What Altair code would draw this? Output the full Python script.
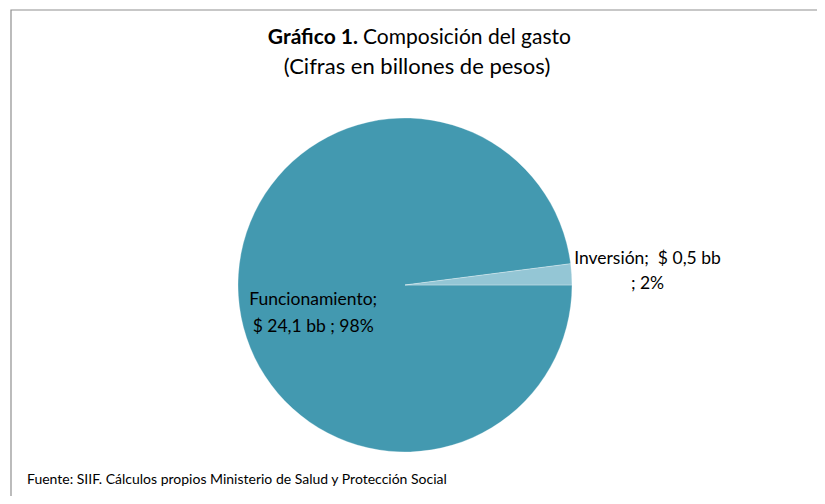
import math
import altair as alt
import pandas as pd

categorias = ["Funcionamiento", "Inversión"]
valores = [24.1, 0.5]
porcentajes = [98, 2]
orden = [1, 2]
colores = ["#4399b0", "#94c6d5"]

titulo_negrita = "Gráfico 1."
titulo_normal = "Composición del gasto"
subtitulo = "(Cifras en billones de pesos)"
fuente = "Fuente: SIIF. Cálculos propios Ministerio de Salud y Protección Social"

FONT = "Lato"


def fmt(v):
    return str(v).replace(".", ",")


df = pd.DataFrame({"categoria": categorias, "valor": valores, "pct": porcentajes, "orden": orden})
df["tF"] = [
    f"{c};\n$ {fmt(v)} bb ; {p}%" if c == "Funcionamiento" else ""
    for c, v, p in zip(categorias, valores, porcentajes)
]
df["tI"] = [
    f"{c};\u00a0\u00a0$ {fmt(v)} bb\n; {p}%" if c == "Inversión" else ""
    for c, v, p in zip(categorias, valores, porcentajes)
]

CX, CY, R = 397, 277, 167
theta_scale = alt.Scale(range=[math.pi / 2, math.pi / 2 + 2 * math.pi])

base = alt.Chart(df)

pie = base.mark_arc(outerRadius=R, stroke="white", strokeWidth=0.3).encode(
    theta=alt.Theta("valor:Q", stack=True, scale=theta_scale),
    color=alt.Color("categoria:N", scale=alt.Scale(domain=categorias, range=colores), legend=None),
    order=alt.Order("orden:Q"),
    x=alt.value(CX),
    y=alt.value(CY),
)

lab_f = base.mark_text(radius=92, dy=9, fontSize=17.5, font=FONT, color="#000000",
                       lineBreak="\n", lineHeight=27, baseline="middle", align="center").encode(
    theta=alt.Theta("valor:Q", stack=True, scale=theta_scale),
    order=alt.Order("orden:Q"),
    text="tF:N",
    x=alt.value(CX),
    y=alt.value(CY),
)

lab_i = base.mark_text(radius=243, dy=-10, fontSize=17.5, font=FONT, color="#000000",
                       lineBreak="\n", lineHeight=25, baseline="middle", align="center").encode(
    theta=alt.Theta("valor:Q", stack=True, scale=theta_scale),
    order=alt.Order("orden:Q"),
    text="tI:N",
    x=alt.value(CX),
    y=alt.value(CY),
)

one = pd.DataFrame({"a": [0]})
o = alt.Chart(one)

borde = o.mark_rect(filled=False, stroke="#8f8f8f", strokeWidth=1.2, clip=True).encode(
    x=alt.value(3), x2=alt.value(1000), y=alt.value(2), y2=alt.value(1000)
)

t1 = o.mark_text(text=titulo_negrita, fontSize=21, fontWeight="bold", font=FONT,
                 align="right", baseline="middle", color="#000000").encode(
    x=alt.value(350), y=alt.value(30))
t2 = o.mark_text(text=titulo_normal, fontSize=21, font=FONT,
                 align="left", baseline="middle", color="#000000").encode(
    x=alt.value(355), y=alt.value(30))
t3 = o.mark_text(text=subtitulo, fontSize=22, font=FONT,
                 align="center", baseline="middle", color="#000000").encode(
    x=alt.value(409), y=alt.value(59))
t4 = o.mark_text(text=fuente, fontSize=14, font=FONT,
                 align="left", baseline="middle", color="#000000").encode(
    x=alt.value(19), y=alt.value(472))

chart = alt.layer(borde, pie, lab_f, lab_i, t1, t2, t3, t4).properties(
    width=809, height=488, autosize="none", padding=0, background="white"
).configure_view(stroke=None)

chart.save("out.html", embed_options={"renderer": "svg", "actions": False})
